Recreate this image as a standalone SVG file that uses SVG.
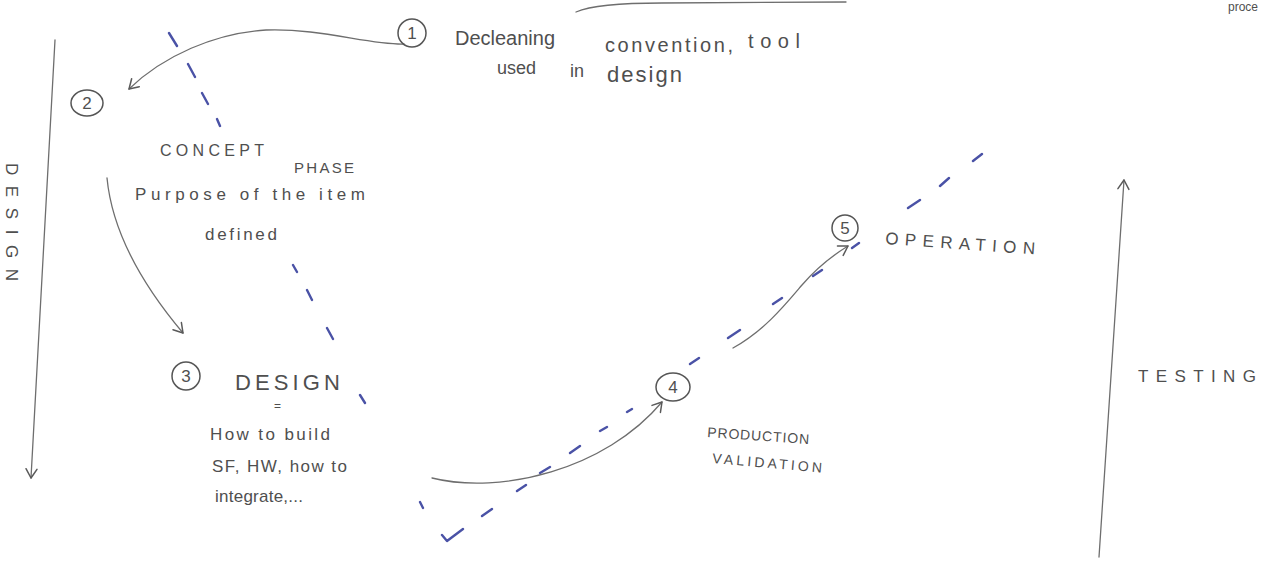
<svg xmlns="http://www.w3.org/2000/svg" width="1274" height="565" viewBox="0 0 1274 565">
  <style>
    .pen { fill: none; stroke: #6e6e6e; stroke-width: 1.3; stroke-linecap: round; stroke-linejoin: round; }
    .cut { fill: none; stroke: #4a52a6; stroke-width: 2.4; stroke-linecap: round; stroke-linejoin: round; }
    .hand { font-family: "Liberation Sans", "DejaVu Sans", sans-serif; fill: #4f4f4f; }
    .num { font-family: "Liberation Sans", "DejaVu Sans", sans-serif; fill: #505050; font-size: 17px; text-anchor: middle; }
    .ring { fill: none; stroke: #555; stroke-width: 1.5; }
  </style>
  <defs>
    <marker id="tip" markerUnits="userSpaceOnUse" markerWidth="20" markerHeight="20" refX="0" refY="0" viewBox="-12 -10 14 20" orient="auto">
      <path d="M -9 -5.5 L 0 0 L -9 5.5" fill="none" stroke="#5a5a5a" stroke-width="1.5" stroke-linecap="round" stroke-linejoin="round"/>
    </marker>
  </defs>

  <rect width="1274" height="565" fill="#ffffff"/>

  <!-- heading fragment at the top edge -->
  <text class="hand" x="1228" y="11" font-size="12" fill="#888">proce</text>
  <path class="pen" d="M 576 12 C 592 5, 620 3, 662 3 L 846 2" stroke="#8a8a8a"/>

  <!-- V-shaped boundary, dashed blue -->
  <g id="boundary">
    <path class="cut" d="M 169 33 L 177 46 M 188 64 L 195 77 M 202 93 L 208 104 M 217 119 L 220 126
      M 293 265 L 297 272 M 307 290 L 312 300 M 327 328 L 333 339 M 360 395 L 365 403 M 420 502 L 423 508
      M 442 535 L 447 541 L 463 529"/>
    <path class="cut" d="M 482 516 L 492 509 M 517 491 L 526 485 M 540 473 L 550 467 M 570 453 L 580 446
      M 600 431 L 607 427 M 627 412 L 632 409 M 690 364 L 699 358 M 728 338 L 740 330 M 773 304 L 782 298
      M 813 276 L 822 270 M 852 248 L 859 243 M 908 208 L 920 200 M 940 186 L 949 178 M 973 161 L 982 154"/>
  </g>

  <!-- side axes -->
  <g id="axis-design">
    <path class="pen" d="M 55 40 L 31 478" marker-end="url(#tip)"/>
    <text class="hand" font-size="17" transform="translate(6,163) rotate(90)" textLength="118" lengthAdjust="spacing">DESIGN</text>
  </g>
  <g id="axis-testing">
    <path class="pen" d="M 1099 557 L 1124 180" marker-end="url(#tip)"/>
    <text class="hand" x="1138" y="382" font-size="17" textLength="118" lengthAdjust="spacing">TESTING</text>
  </g>

  <!-- phase flow -->
  <g id="connectors">
    <path class="pen" d="M 404 44 C 370 45, 320 28, 266 30 C 215 33, 163 56, 129 89" marker-end="url(#tip)"/>
    <path class="pen" d="M 107 178 C 112 230, 140 282, 183 333" marker-end="url(#tip)"/>
    <path class="pen" d="M 432 478 C 500 495, 605 470, 662 402" marker-end="url(#tip)"/>
    <path class="pen" d="M 733 348 C 765 330, 785 305, 802 285 C 815 270, 830 257, 848 246" marker-end="url(#tip)"/>
  </g>

  <g id="step1">
    <circle class="ring" cx="412" cy="33" r="14"/>
    <text class="num" x="412" y="39">1</text>
    <text class="hand" x="455" y="45" font-size="20" textLength="100" lengthAdjust="spacing">Decleaning</text>
    <text class="hand" x="605" y="52" font-size="20" textLength="128" lengthAdjust="spacing">convention,</text>
    <text class="hand" x="748" y="48" font-size="20" textLength="52" lengthAdjust="spacing">tool</text>
    <text class="hand" x="497" y="74" font-size="18">used</text>
    <text class="hand" x="570" y="77" font-size="18">in</text>
    <text class="hand" x="607" y="82" font-size="22" textLength="75" lengthAdjust="spacing">design</text>
  </g>

  <g id="step2">
    <ellipse class="ring" cx="87" cy="103" rx="16" ry="13"/>
    <text class="num" x="87" y="109">2</text>
    <text class="hand" x="160" y="156" font-size="16" textLength="104" lengthAdjust="spacing">CONCEPT</text>
    <text class="hand" x="294" y="173" font-size="15" textLength="60" lengthAdjust="spacing">PHASE</text>
    <text class="hand" x="135" y="200" font-size="17" textLength="230" lengthAdjust="spacing">Purpose of the item</text>
    <text class="hand" x="205" y="240" font-size="17" textLength="72" lengthAdjust="spacing">defined</text>
  </g>

  <g id="step3">
    <circle class="ring" cx="186" cy="376" r="14"/>
    <text class="num" x="186" y="382">3</text>
    <text class="hand" x="235" y="390" font-size="22" textLength="105" lengthAdjust="spacing">DESIGN</text>
    <text class="hand" x="274" y="410" font-size="12">=</text>
    <text class="hand" x="210" y="440" font-size="17" textLength="120" lengthAdjust="spacing">How to build</text>
    <text class="hand" x="212" y="472" font-size="17" textLength="135" lengthAdjust="spacing">SF, HW, how to</text>
    <text class="hand" x="215" y="502" font-size="17" textLength="88" lengthAdjust="spacing">integrate,...</text>
  </g>

  <g id="step4">
    <ellipse class="ring" cx="673" cy="387" rx="17" ry="14"/>
    <text class="num" x="673" y="393">4</text>
    <text class="hand" x="707" y="437" font-size="14" textLength="102" lengthAdjust="spacing" transform="rotate(4 707 437)">PRODUCTION</text>
    <text class="hand" x="712" y="463" font-size="14" textLength="110" lengthAdjust="spacing" transform="rotate(5 712 463)">VALIDATION</text>
  </g>

  <g id="step5">
    <circle class="ring" cx="845" cy="228" r="13"/>
    <text class="num" x="845" y="234">5</text>
    <text class="hand" x="885" y="244" font-size="17" textLength="150" lengthAdjust="spacing" transform="rotate(4 885 244)">OPERATION</text>
  </g>
</svg>
